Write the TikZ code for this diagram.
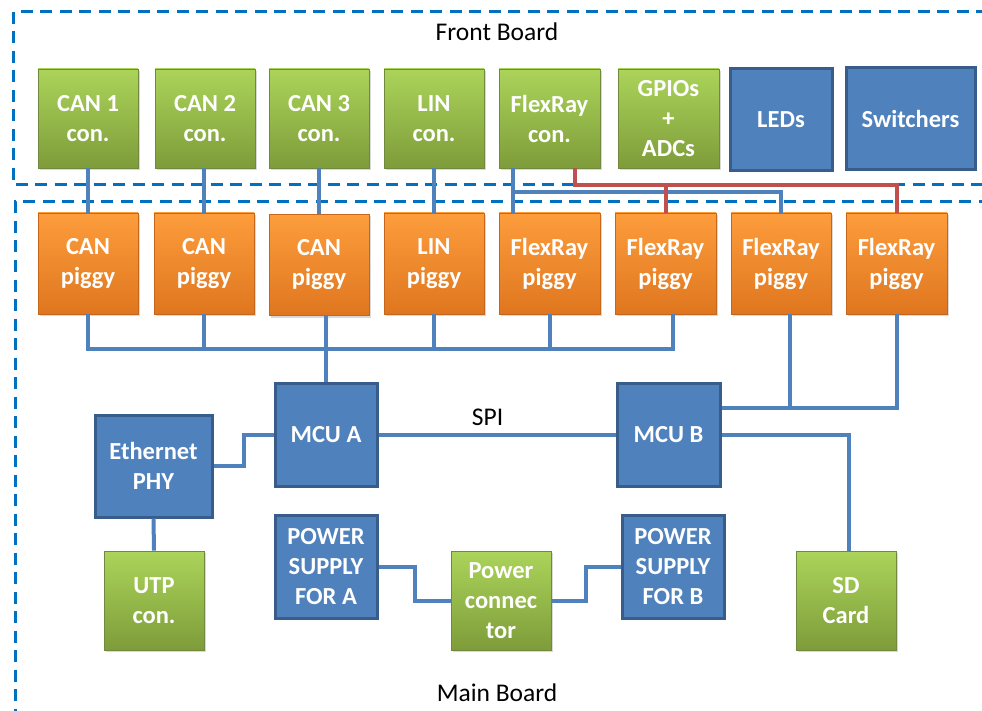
\documentclass[tikz,border=0pt]{standalone}
\usepackage{fontspec}
\setmainfont{Carlito}
\usetikzlibrary{calc,shadows}

\definecolor{frameblue}{HTML}{0070C0}
\definecolor{wireblue}{HTML}{4F81BD}
\definecolor{wirered}{HTML}{C0504D}
\definecolor{boxblue}{HTML}{4F81BD}
\definecolor{boxblueedge}{HTML}{385D8A}
\definecolor{greentop}{HTML}{ABD45A}
\definecolor{greenbot}{HTML}{7E9C3A}
\definecolor{greenedge}{HTML}{71893F}
\definecolor{orangetop}{HTML}{FD9D3C}
\definecolor{orangebot}{HTML}{DF761F}
\definecolor{orangeedge}{HTML}{C4661C}

\tikzset{
  boxtext/.style={font=\fontsize{24.5}{30}\selectfont\bfseries, text=white,
    align=center, inner sep=0pt},
  conbox/.style={boxtext, draw=greenedge, line width=0.8pt,
    top color=greentop, bottom color=greenbot,
    drop shadow={shadow xshift=1.5pt, shadow yshift=-2pt, opacity=0.3},
    minimum width=100pt, minimum height=99pt},
  piggybox/.style={boxtext, draw=orangeedge, line width=0.8pt,
    top color=orangetop, bottom color=orangebot,
    drop shadow={shadow xshift=1.5pt, shadow yshift=-2pt, opacity=0.3},
    minimum width=100pt, minimum height=101pt},
  chipbox/.style={boxtext, draw=boxblueedge, line width=3pt, fill=boxblue,
    minimum width=102pt, minimum height=102pt},
  wire/.style={draw=wireblue, line width=4pt},
  redwire/.style={draw=wirered, line width=4pt},
  boardframe/.style={draw=frameblue, line width=3pt, dash pattern=on 12pt off 7.5pt},
  boardlabel/.style={font=\fontsize{25.5}{30}\selectfont, text=black, inner sep=0pt}
}

\begin{document}
\begin{tikzpicture}[x=1pt,y=-1pt]
  \useasboundingbox (0,0) rectangle (982,711);

  % board outlines (they run past the right and bottom edges)
  \begin{scope}
    \clip (0,0) rectangle (982,711);
    \draw[boardframe] (13,12) rectangle (1010,185);
    \draw[boardframe] (1010,202) -- (15,202) -- (15,740);
  \end{scope}

  \node[boardlabel] (front) at (497,32) {Front Board};
  \node[boardlabel] (main)  at (497,693) {Main Board};

  % front board connectors
  \node[conbox] (can1) at (88,118.5)    {CAN 1\\con.};
  \node[conbox] (can2) at (205,118.5)   {CAN 2\\con.};
  \node[conbox] (can3) at (319,118.5)   {CAN 3\\con.};
  \node[conbox] (linc) at (434,118.5)   {LIN\\con.};
  \node[conbox, minimum width=101pt] (frc) at (549.5,118.5) {FlexRay\\con.};
  \node[conbox, minimum width=101pt] (gpio) at (668.5,118.5) {GPIOs\\+\\ADCs};
  \node[chipbox] (leds) at (781,120) {LEDs};
  \node[chipbox, minimum width=129pt] (sw) at (910.5,119) {Switchers};

  % piggy-back transceiver boards
  \node[piggybox] (cp1) at (88,263.5)    {CAN\\piggy};
  \node[piggybox] (cp2) at (204,263.5)   {CAN\\piggy};
  \node[piggybox] (cp3) at (319,265)     {CAN\\piggy};
  \node[piggybox] (lp)  at (434,263.5)   {LIN\\piggy};
  \node[piggybox, minimum width=101pt] (fp1) at (549.5,263.5) {FlexRay\\piggy};
  \node[piggybox, minimum width=101pt] (fp2) at (665.5,263.5) {FlexRay\\piggy};
  \node[piggybox] (fp3) at (781,263.5)   {FlexRay\\piggy};
  \node[piggybox, minimum width=101pt] (fp4) at (896.5,263.5) {FlexRay\\piggy};

  % main board blocks
  \node[chipbox, minimum height=103pt] (mcua) at (326,434.5)   {MCU A};
  \node[chipbox, minimum width=103pt, minimum height=103pt] (mcub) at (668.5,434.5) {MCU B};
  \node[chipbox, minimum width=117pt] (eth) at (153.5,466) {Ethernet\\PHY};
  \node[conbox] (utp) at (154,600.5) {UTP\\con.};
  \node[chipbox, minimum height=103pt] (psa) at (326,566.5) {POWER\\SUPPLY\\FOR A};
  \node[conbox] (pc)  at (501,600.5) {Power\\connec\\tor};
  \node[chipbox, minimum height=103pt] (psb) at (673,566.5) {POWER\\SUPPLY\\FOR B};
  \node[conbox] (sd)  at (846,600.5) {SD\\Card};

  % bus levels and off-centre attachment points
  \coordinate (redbus)   at (0,185);
  \coordinate (bluebus)  at (0,192);
  \coordinate (piggybus) at (0,349);
  \coordinate (frblue)   at ([xshift=14pt]frc.south west);
  \coordinate (fp1blue)  at ([xshift=14pt]fp1.north west);
  \coordinate (frred)    at ([xshift=76pt]frc.south west);
  \coordinate (fp2out)   at ([xshift=7.5pt]fp2.south);
  \coordinate (fp3out)   at ([xshift=9pt]fp3.south);
  \coordinate (mcubin)   at ([yshift=-26pt]mcub.north east);
  \coordinate (sdin)     at ([xshift=3pt]sd.north);

  % connector to piggy links
  \draw[wire] (can1.south) -- (cp1.north);
  \draw[wire] (can2.south -| cp2.north) -- (cp2.north);
  \draw[wire] (can3.south) -- (cp3.north);
  \draw[wire] (linc.south) -- (lp.north);
  \draw[wire] (frblue) -- (fp1blue);
  \draw[wire] (frblue |- bluebus) -| (fp3.north);
  \draw[redwire] (frred) |- (redbus -| fp4.north) -- (fp4.north);
  \draw[redwire] (redbus -| fp2.north) -- (fp2.north);

  % piggy bus to MCU A
  \draw[wire] (cp1.south) |- (piggybus -| fp2out) -- (fp2out);
  \draw[wire] (cp2.south) -- (cp2.south |- piggybus);
  \draw[wire] (cp3.south -| mcua.north) -- (mcua.north);
  \draw[wire] (lp.south) -- (lp.south |- piggybus);
  \draw[wire] (fp1.south) -- (fp1.south |- piggybus);

  % FlexRay piggies to MCU B
  \draw[wire] (mcubin) -| (fp4.south);
  \draw[wire] (fp3out) -- (fp3out |- mcubin);

  % MCU links
  \draw[wire] (mcua.east) -- node[boardlabel, above=7pt, pos=0.46] (spi) {SPI} (mcub.west);
  \draw[wire] (eth.east) -- ($(eth.east)!0.5!(eth.east -| mcua.west)$) |- (mcua.west);
  \draw[wire] (eth.south) -- (utp.north);
  \draw[wire] (mcub.east) -| (sdin);

  % power distribution
  \draw[wire] (psa.east) -- ($(psa.east)!0.5!(psa.east -| pc.west)$) |- (pc.west);
  \draw[wire] (pc.east) -- ($(pc.east)!0.5!(pc.east -| psb.west)$) |- (psb.west);
\end{tikzpicture}
\end{document}
